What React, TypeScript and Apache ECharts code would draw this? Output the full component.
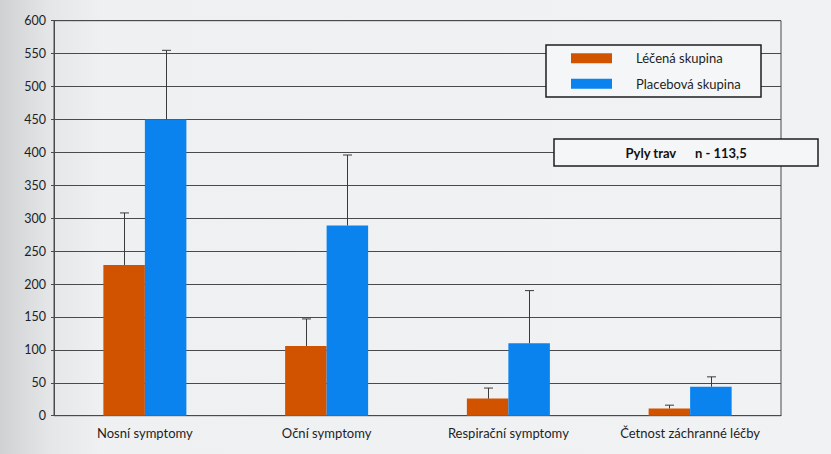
import React, { useEffect, useRef } from "react";
import * as echarts from "echarts";

const categories = ["Nosní symptomy", "Oční symptomy", "Respirační symptomy", "Četnost záchranné léčby"];
const seriesNames = ["Léčená skupina", "Placebová skupina"];
const treatedValues = [229, 106, 26, 11];
const treatedErrorTop = [308, 147, 42, 16];
const placeboValues = [450, 289, 110, 44];
const placeboErrorTop = [555, 396, 190, 59];
const yTicks = { min: 0, max: 600, interval: 50 };
const annotationLeft = "Pyly trav";
const annotationRight = "n - 113,5";

const ORANGE = "#d15300";
const BLUE = "#0a83ef";
const BAR_W = 41.5;
const FONT = "Lato, 'Noto Sans', sans-serif";

function errorSeries(values: number[], tops: number[], offset: number) {
  return {
    type: "custom",
    z: 5,
    silent: true,
    data: values.map((v, i) => [i, v, tops[i]]),
    encode: { x: 0, y: [1, 2] },
    renderItem: (_params: any, api: any) => {
      const idx = api.value(0);
      const base = api.coord([idx, api.value(1)]);
      const top = api.coord([idx, api.value(2)]);
      const x = Math.round(base[0] + offset) + 0.5;
      const style = { stroke: "#3a3a3a", lineWidth: 1 };
      return {
        type: "group",
        children: [
          { type: "line", shape: { x1: x, y1: base[1], x2: x, y2: top[1] }, style },
          { type: "line", shape: { x1: x - 4.5, y1: top[1], x2: x + 4.5, y2: top[1] }, style },
        ],
      };
    },
  };
}

export default function App() {
  const ref = useRef<HTMLDivElement>(null);
  useEffect(() => {
    if (!ref.current) return;
    const chart = echarts.init(ref.current, undefined, { renderer: "svg" });
    chart.setOption({
      animation: false,
      backgroundColor: {
        type: "linear", x: 0, y: 0, x2: 1, y2: 0,
        colorStops: [
          { offset: 0, color: "#cfd1d3" },
          { offset: 0.06, color: "#e4e6e8" },
          { offset: 0.12, color: "#eef0f2" },
          { offset: 1, color: "#f1f2f4" },
        ],
      },
      textStyle: { fontFamily: FONT },
      grid: {
        left: 54, right: 50, top: 20.7, bottom: 38.3,
        show: true, borderColor: "#4a4a4a", borderWidth: 1, backgroundColor: "transparent",
      },
      legend: {
        orient: "vertical",
        left: 571, top: 50.3,
        padding: 0,
        z: 12,
        itemWidth: 41, itemHeight: 10, itemGap: 9.5,
        icon: "rect",
        data: seriesNames,
        textStyle: { fontSize: 13, lineHeight: 16, color: "#1e1e1e", fontFamily: FONT, padding: [0, 0, 0, 19] },
      },
      xAxis: {
        type: "category",
        data: categories,
        axisLine: { show: true, lineStyle: { color: "#4a4a4a", width: 1 } },
        axisTick: { show: false },
        axisLabel: { color: "#1e1e1e", fontSize: 13, margin: 11, fontFamily: FONT, interval: 0 },
      },
      yAxis: {
        type: "value",
        min: yTicks.min, max: yTicks.max, interval: yTicks.interval,
        axisLine: { show: true, lineStyle: { color: "#4a4a4a", width: 1 } },
        axisTick: { show: true, length: 3, lineStyle: { color: "#4a4a4a" } },
        axisLabel: { color: "#1e1e1e", fontSize: 12.5, margin: 8, fontFamily: FONT },
        splitLine: { show: true, lineStyle: { color: "#4a4a4a", width: 1 } },
      },
      series: [
        {
          name: seriesNames[0], type: "bar", data: treatedValues,
          barWidth: BAR_W, barGap: "0%", itemStyle: { color: ORANGE }, z: 3,
        },
        {
          name: seriesNames[1], type: "bar", data: placeboValues,
          barWidth: BAR_W, barGap: "0%", itemStyle: { color: BLUE }, z: 3,
        },
        errorSeries(treatedValues, treatedErrorTop, -BAR_W / 2),
        errorSeries(placeboValues, placeboErrorTop, BAR_W / 2),
      ],
      graphic: [
        {
          type: "rect", z: 10,
          shape: { x: 546, y: 45, width: 215, height: 52 },
          style: { fill: "#f5f6f7", stroke: "#1e1e1e", lineWidth: 1.5 },
        },
        {
          type: "rect", z: 10,
          shape: { x: 554, y: 139, width: 264, height: 27 },
          style: { fill: "#f5f6f7", stroke: "#1e1e1e", lineWidth: 1.5 },
        },
        {
          type: "text", z: 11, x: 625.5, y: 153,
          style: { text: annotationLeft, font: `bold 13px ${FONT}`, fill: "#111", verticalAlign: "middle" },
        },
        {
          type: "text", z: 11, x: 695, y: 153,
          style: { text: annotationRight, font: `bold 13px ${FONT}`, fill: "#111", verticalAlign: "middle" },
        },
      ],
    });
    return () => chart.dispose();
  }, []);
  return <div ref={ref} style={{ position: "fixed", left: 0, top: 0, width: 831, height: 454 }} />;
}
